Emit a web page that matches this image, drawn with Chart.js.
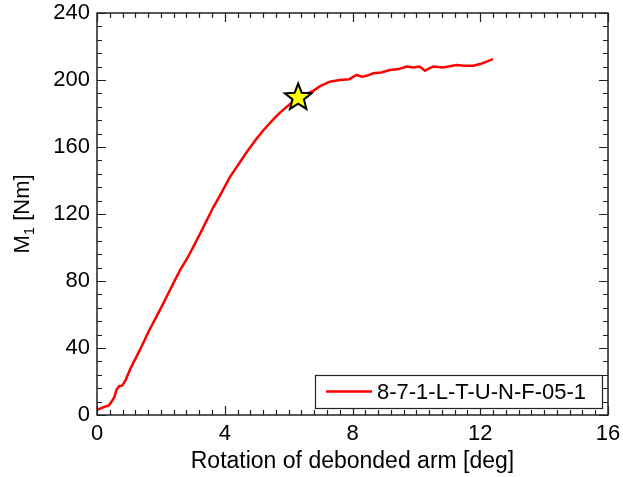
<!DOCTYPE html>
<html>
<head>
<meta charset="utf-8">
<script src="https://cdn.jsdelivr.net/npm/chart.js@4.4.1/dist/chart.umd.min.js"></script>
<style>
  html, body { margin: 0; padding: 0; background: #fff; }
  #wrap { width: 623px; height: 477px; }
</style>
</head>
<body>
<div id="wrap"><canvas id="c" width="623" height="477"></canvas></div>
<script>
// 曲线数据 (deg, Nm)
const rotDeg = [0, 0.12, 0.25, 0.36, 0.46, 0.55, 0.61, 0.7, 0.79, 0.9, 1.03, 1.2, 1.4, 1.62, 1.87, 2.1, 2.34, 2.6, 2.81, 3.02,
    3.3, 3.64, 3.85, 4.16, 4.48, 4.69, 5.0, 5.21, 5.52, 5.73, 6.0, 6.3, 6.55, 6.77, 7.0, 7.29, 7.6, 7.9, 8.13,
    8.3, 8.44, 8.65, 8.9, 9.17, 9.45, 9.7, 9.9, 10.1, 10.27, 10.4, 10.53, 10.84, 11.0, 11.26, 11.5, 11.78, 12.0, 12.2, 12.4];
const momentNm = [3, 4, 5, 5.5, 8, 11, 15, 17.3, 17.5, 21, 27, 33.5, 41, 50, 59, 67.5, 76.7, 86.5, 93, 100.5,
    111, 124, 131, 142, 151, 157, 165, 170, 176.5, 180.5, 185, 189.5, 191.5, 193.5, 196.5, 199, 200, 200.5, 203,
    202, 202.5, 204, 204.5, 206, 206.5, 208, 207.5, 208, 205.5, 207, 208, 207.5, 208, 209, 208.5, 208.5, 209.5, 211, 212.5];
const starPoint = [{ x: 6.3, y: 189.5 }];
const seriesLabel = '8-7-1-L-T-U-N-F-05-1';
const xTicks = [0, 4, 8, 12, 16];
const yTicks = [0, 40, 80, 120, 160, 200, 240];

const FONT = 'Arial, "Liberation Sans", sans-serif';

// 坐标框、内向刻度、图例、Y轴标题
const framePlugin = {
    id: 'frame',
    afterDraw(chart) {
        const ctx = chart.ctx;
        const a = chart.chartArea;
        const xs = chart.scales.x, ys = chart.scales.y;
        ctx.save();
        ctx.strokeStyle = '#222';
        ctx.lineWidth = 1.5;
        ctx.strokeRect(a.left, a.top, a.right - a.left, a.bottom - a.top);

        ctx.lineWidth = 1.2;
        ctx.beginPath();
        for (let v = 0; v <= 16.001; v += 0.4) {
            const px = Math.round(xs.getPixelForValue(v)) + 0.5;
            const major = Math.abs(v / 4 - Math.round(v / 4)) < 1e-6;
            const len = major ? 9 : 5;
            ctx.moveTo(px, a.bottom); ctx.lineTo(px, a.bottom - len);
            ctx.moveTo(px, a.top); ctx.lineTo(px, a.top + len);
        }
        for (let v = 0; v <= 240.001; v += 8) {
            const py = Math.round(ys.getPixelForValue(v)) + 0.5;
            const major = v % 40 === 0;
            const len = major ? 9 : 5;
            ctx.moveTo(a.left, py); ctx.lineTo(a.left + len, py);
            ctx.moveTo(a.right, py); ctx.lineTo(a.right - len, py);
        }
        ctx.stroke();

        // 图例
        const lx = 315, ly = 375, lw = 287, lh = 33;
        ctx.fillStyle = '#fff';
        ctx.fillRect(lx, ly, lw, lh);
        ctx.strokeStyle = '#222';
        ctx.lineWidth = 1.2;
        ctx.strokeRect(lx + 0.5, ly + 0.5, lw, lh);
        ctx.strokeStyle = '#ff0000';
        ctx.lineWidth = 2.5;
        ctx.beginPath();
        ctx.moveTo(326, ly + lh / 2); ctx.lineTo(372, ly + lh / 2);
        ctx.stroke();
        ctx.fillStyle = '#000';
        ctx.font = '22px ' + FONT;
        ctx.textBaseline = 'middle';
        ctx.textAlign = 'left';
        ctx.fillText(seriesLabel, 377, ly + lh / 2 + 1);

        // Y 轴标题 M1 [Nm]
        ctx.translate(21, 214);
        ctx.rotate(-Math.PI / 2);
        ctx.font = '22px ' + FONT;
        const w1 = ctx.measureText('M').width;
        ctx.font = '15px ' + FONT;
        const w2 = ctx.measureText('1').width;
        ctx.font = '22px ' + FONT;
        const w3 = ctx.measureText(' [Nm]').width;
        let sx = -(w1 + w2 + w3) / 2;
        ctx.textAlign = 'left';
        ctx.textBaseline = 'alphabetic';
        ctx.fillText('M', sx, 8);
        ctx.font = '15px ' + FONT;
        ctx.fillText('1', sx + w1, 13);
        ctx.font = '22px ' + FONT;
        ctx.fillText(' [Nm]', sx + w1 + w2, 8);
        ctx.restore();
    }
};

new Chart(document.getElementById('c').getContext('2d'), {
    type: 'scatter',
    data: {
        datasets: [{
            label: seriesLabel,
            data: rotDeg.map((x, i) => ({ x: x, y: momentNm[i] })),
            showLine: true,
            borderColor: '#ff0000',
            borderWidth: 2.5,
            pointRadius: 0,
            tension: 0,
            order: 2
        }]
    },
    options: {
        responsive: false,
        animation: false,
        layout: { padding: { top: 13, right: 15, left: 0, bottom: 0 } },
        plugins: { legend: { display: false }, tooltip: { enabled: false } },
        scales: {
            x: {
                type: 'linear', min: 0, max: 16,
                afterBuildTicks: s => { s.ticks = xTicks.map(v => ({ value: v })); },
                afterFit: s => { s.height = 62; s.paddingLeft = 0; s.paddingRight = 0; },
                grid: { display: false, drawTicks: false },
                border: { display: false },
                ticks: { color: '#000', font: { size: 22, family: FONT }, padding: 6 },
                title: { display: true, text: 'Rotation of debonded arm [deg]', color: '#000',
                    font: { size: 23, family: FONT }, padding: { top: 0, bottom: 2 } }
            },
            y: {
                type: 'linear', min: 0, max: 240,
                afterBuildTicks: s => { s.ticks = yTicks.map(v => ({ value: v })); },
                afterFit: s => { s.width = 97; s.paddingTop = 0; s.paddingBottom = 0; },
                grid: { display: false, drawTicks: false },
                border: { display: false },
                ticks: { color: '#000', font: { size: 22, family: FONT }, padding: 7 }
            }
        }
    },
    plugins: [framePlugin, {
        id: 'starMarker',
        afterDraw(chart) {
            // 星形标记
            const ctx = chart.ctx;
            const cx = chart.scales.x.getPixelForValue(starPoint[0].x);
            const cy = chart.scales.y.getPixelForValue(starPoint[0].y);
            const R = 14, r = 6;
            ctx.save();
            ctx.beginPath();
            for (let i = 0; i < 10; i++) {
                const ang = -Math.PI / 2 + i * Math.PI / 5;
                const rad = i % 2 === 0 ? R : r;
                const px = cx + rad * Math.cos(ang), py = cy + rad * Math.sin(ang);
                if (i === 0) ctx.moveTo(px, py); else ctx.lineTo(px, py);
            }
            ctx.closePath();
            ctx.fillStyle = '#ffff00';
            ctx.fill();
            ctx.strokeStyle = '#000';
            ctx.lineWidth = 2;
            ctx.stroke();
            ctx.restore();
        }
    }]
});
</script>
</body>
</html>
